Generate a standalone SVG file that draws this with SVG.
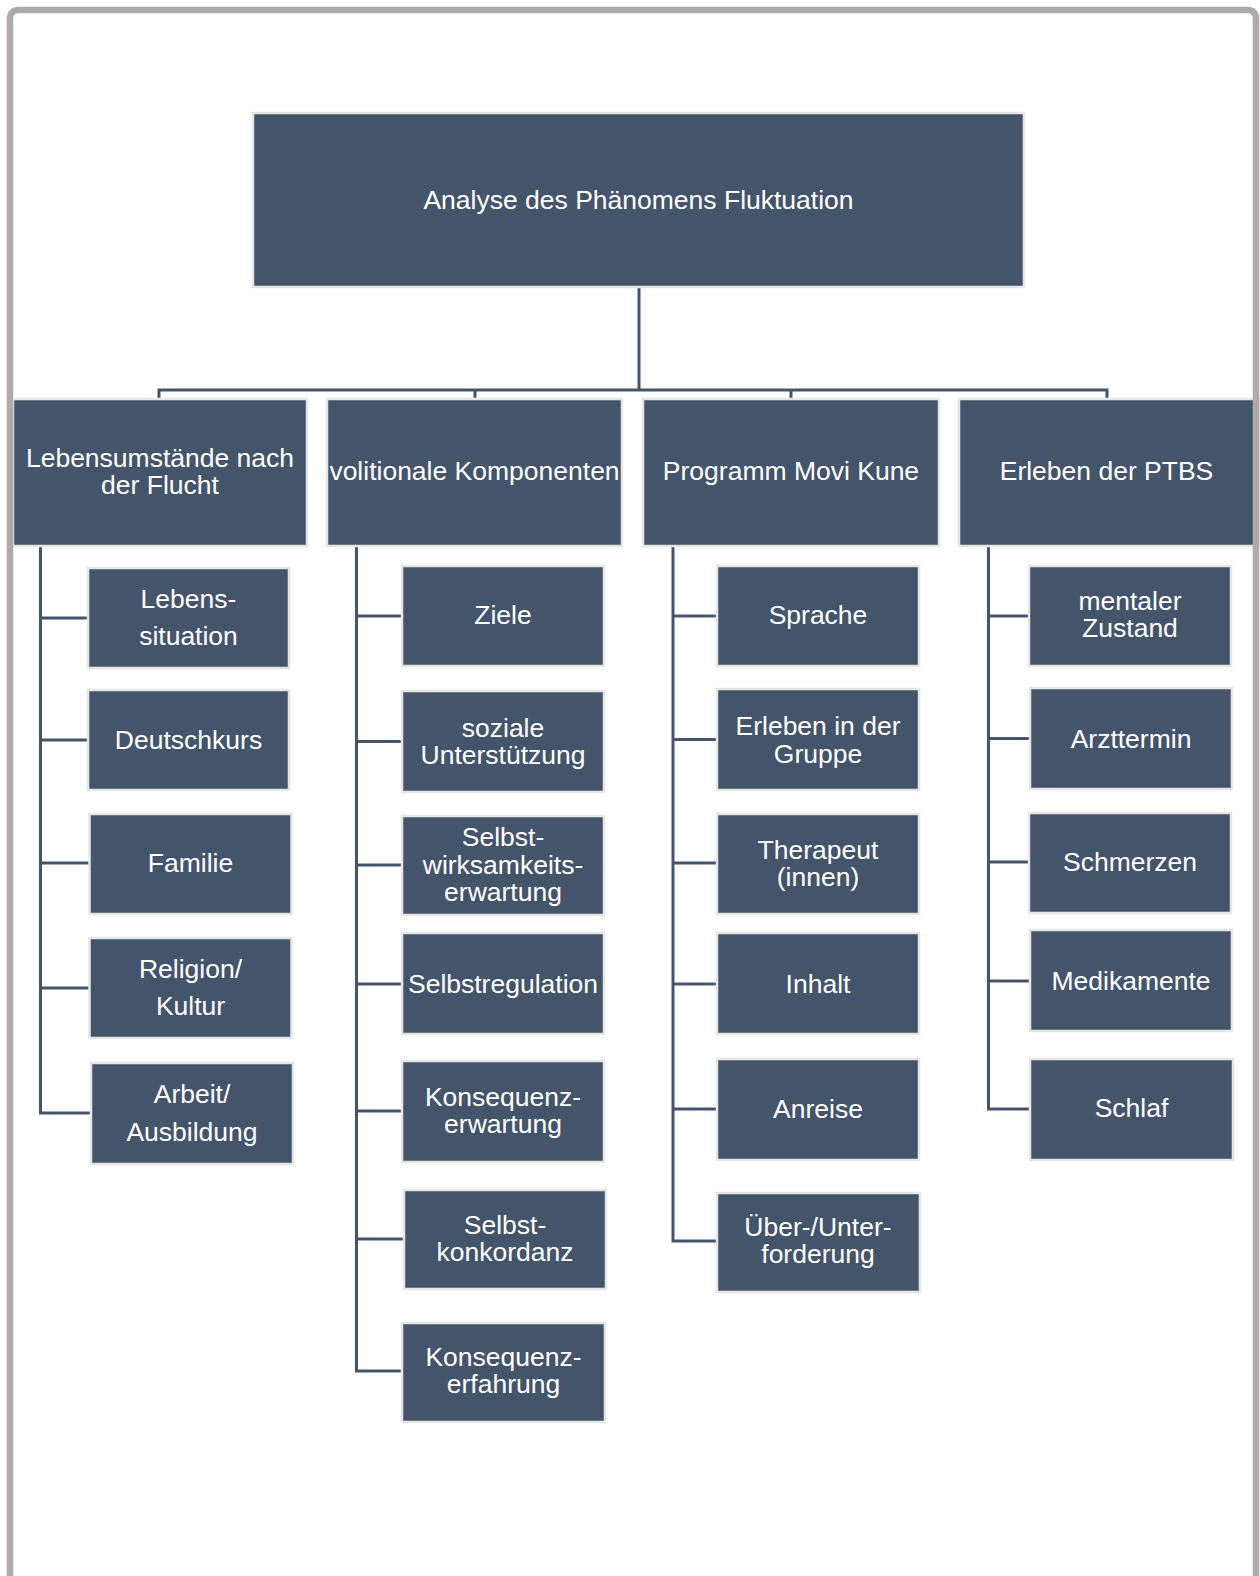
<svg xmlns="http://www.w3.org/2000/svg" width="1260" height="1576" viewBox="0 0 1260 1576">
<style>
.box{fill:#44546a;stroke:#e6e6e6;stroke-width:2.5}
.t{font-family:"Liberation Sans",Arial,sans-serif;font-size:26.5px;fill:#ffffff;text-anchor:middle}
.c{fill:none;stroke:#44546a;stroke-width:3}
</style>
<rect x="0" y="0" width="1260" height="1576" fill="#ffffff"/>
<g id="connectors">
<path class="c" d="M639,288V390M159,399V390H1107V399M475,390V399M791,390V399"/>
<path class="c" d="M40.5,546V1113H91M40.5,618H88M40.5,740H88M40.5,863H89M40.5,988H89"/>
<path class="c" d="M356.5,546V1371H402M356.5,616H402M356.5,741.5H402M356.5,865H402M356.5,984H402M356.5,1111H402M356.5,1239H404"/>
<path class="c" d="M673,546V1241H717M673,616H717M673,739.5H717M673,863H717M673,984H717M673,1109H717"/>
<path class="c" d="M988.5,546V1109H1030M988.5,616H1029M988.5,738.5H1030M988.5,862H1029M988.5,981H1030"/>
</g>
<g id="root"><rect class="box" x="253" y="113" width="771" height="174"/><text class="t" x="638.5" y="208.5">Analyse des Phänomens Fluktuation</text></g>
<g id="n-lebensumstaende"><rect class="box" x="13" y="399" width="294" height="147"/><text class="t" x="160" y="467">Lebensumstände nach</text><text class="t" x="160" y="494">der Flucht</text></g>
<g id="n-volitionale"><rect class="box" x="327" y="399" width="295" height="147"/><text class="t" x="474.5" y="480">volitionale Komponenten</text></g>
<g id="n-programm"><rect class="box" x="643" y="399" width="296" height="147"/><text class="t" x="791" y="480">Programm Movi Kune</text></g>
<g id="n-ptbs"><rect class="box" x="959" y="399" width="300" height="147"/><text class="t" x="1106.5" y="480">Erleben der PTBS</text></g>

<g id="c1-1"><rect class="box" x="88" y="568" width="201" height="100"/><text class="t" x="188.5" y="608">Lebens-</text><text class="t" x="188.5" y="645">situation</text></g>
<g id="c1-2"><rect class="box" x="88" y="690" width="201" height="100"/><text class="t" x="188.5" y="749">Deutschkurs</text></g>
<g id="c1-3"><rect class="box" x="89.5" y="814" width="202" height="100"/><text class="t" x="190.5" y="872">Familie</text></g>
<g id="c1-4"><rect class="box" x="89.5" y="938" width="202" height="100"/><text class="t" x="190.5" y="978">Religion/</text><text class="t" x="190.5" y="1015">Kultur</text></g>
<g id="c1-5"><rect class="box" x="91" y="1063" width="202" height="101"/><text class="t" x="192" y="1103">Arbeit/</text><text class="t" x="192" y="1141">Ausbildung</text></g>

<g id="c2-1"><rect class="box" x="402" y="566" width="202" height="100"/><text class="t" x="503" y="624">Ziele</text></g>
<g id="c2-2"><rect class="box" x="402" y="691" width="202" height="101"/><text class="t" x="503" y="737">soziale</text><text class="t" x="503" y="764">Unterstützung</text></g>
<g id="c2-3"><rect class="box" x="402" y="816" width="202" height="99"/><text class="t" x="503" y="846">Selbst-</text><text class="t" x="503" y="874">wirksamkeits-</text><text class="t" x="503" y="901">erwartung</text></g>
<g id="c2-4"><rect class="box" x="402" y="933" width="202" height="101"/><text class="t" x="503" y="993">Selbstregulation</text></g>
<g id="c2-5"><rect class="box" x="402" y="1061" width="202" height="101"/><text class="t" x="503" y="1106">Konsequenz-</text><text class="t" x="503" y="1133">erwartung</text></g>
<g id="c2-6"><rect class="box" x="404" y="1190" width="202" height="99"/><text class="t" x="505" y="1234">Selbst-</text><text class="t" x="505" y="1261">konkordanz</text></g>
<g id="c2-7"><rect class="box" x="402" y="1323" width="203" height="99"/><text class="t" x="503.5" y="1366">Konsequenz-</text><text class="t" x="503.5" y="1393">erfahrung</text></g>

<g id="c3-1"><rect class="box" x="717" y="566" width="202" height="100"/><text class="t" x="818" y="624">Sprache</text></g>
<g id="c3-2"><rect class="box" x="717" y="689" width="202" height="101"/><text class="t" x="818" y="735">Erleben in der</text><text class="t" x="818" y="763">Gruppe</text></g>
<g id="c3-3"><rect class="box" x="717" y="814" width="202" height="100"/><text class="t" x="818" y="859">Therapeut</text><text class="t" x="818" y="886">(innen)</text></g>
<g id="c3-4"><rect class="box" x="717" y="933" width="202" height="101"/><text class="t" x="818" y="993">Inhalt</text></g>
<g id="c3-5"><rect class="box" x="717" y="1059" width="202" height="101"/><text class="t" x="818" y="1118">Anreise</text></g>
<g id="c3-6"><rect class="box" x="717" y="1193" width="203" height="99"/><text class="t" x="818" y="1236">Über-/Unter-</text><text class="t" x="818" y="1263">forderung</text></g>

<g id="c4-1"><rect class="box" x="1029" y="566" width="202" height="100"/><text class="t" x="1130" y="610">mentaler</text><text class="t" x="1130" y="637">Zustand</text></g>
<g id="c4-2"><rect class="box" x="1030" y="688" width="202" height="101"/><text class="t" x="1131" y="748">Arzttermin</text></g>
<g id="c4-3"><rect class="box" x="1029" y="813" width="202" height="100"/><text class="t" x="1130" y="871">Schmerzen</text></g>
<g id="c4-4"><rect class="box" x="1030" y="930" width="202" height="101"/><text class="t" x="1131" y="990">Medikamente</text></g>
<g id="c4-5"><rect class="box" x="1030" y="1059" width="203" height="101"/><text class="t" x="1131.5" y="1117">Schlaf</text></g>

<rect x="10" y="10" width="1246" height="1620" rx="8" fill="none" stroke="#b0abaa" stroke-width="6.5"/>
</svg>
